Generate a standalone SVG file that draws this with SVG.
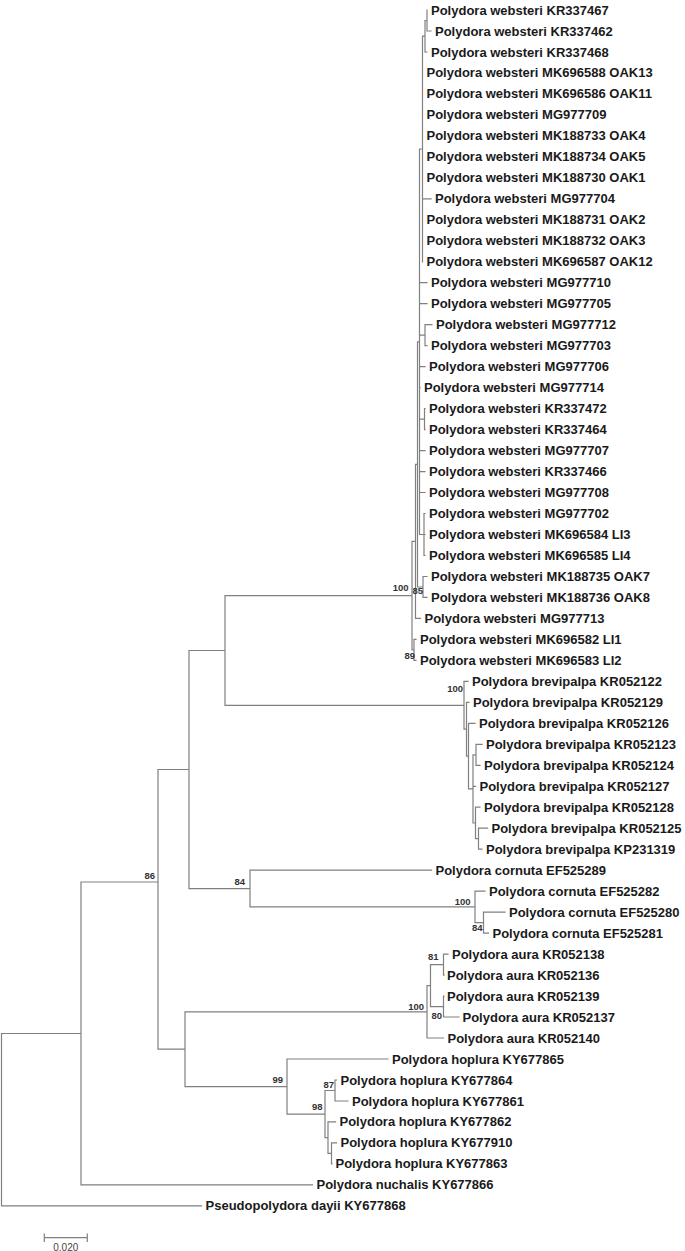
<svg xmlns="http://www.w3.org/2000/svg" width="685" height="1251" viewBox="0 0 685 1251">
<style>
.br{fill:none;stroke:#808080;stroke-width:1.2;stroke-linecap:square}
.lf{font-family:"Liberation Sans",Arial,sans-serif;font-weight:bold;font-size:13px;fill:#1a1a1a}
.bs{font-family:"Liberation Sans",Arial,sans-serif;font-weight:bold;font-size:9.5px;fill:#333;text-anchor:end}
.sc{font-family:"Liberation Sans",Arial,sans-serif;font-size:10px;fill:#444;text-anchor:middle}
</style>
<rect width="685" height="1251" fill="#fff"/>
<g id="connectors">
<path class="br" d="M1.5,1033.5V1205.9M1.5,1033.5H81M1.5,1205.9H201.5
M81,882V1184.9M81,882H158M81,1184.9H312.5
M158,769.5V1049.2M158,769.5H189M158,1049.2H185
M189,650.5V888.6M189,650.5H225M189,888.6H250
M225,595.7V705.3M225,595.7H412M225,705.3H464
M250,870.2V906.9M250,870.2H431.5M250,906.9H475
M475,891.2V922.6M475,891.2H485M475,922.6H483.5
M483.5,912.1V933.1M483.5,912.1H505M483.5,933.1H488.5
M185,1011.8V1086.6M185,1011.8H427M185,1086.6H287
M427,985.6V1038M427,985.6H430.5M427,1038H443.5
M430.5,964.6V1006.6M430.5,964.6H443.5M430.5,1006.6H443.5
M443.5,954.1V975.1M443.5,954.1H448M443.5,975.1H444
M443.5,996.1V1017M443.5,996.1H444M443.5,1017H459
M287,1059V1114.1M287,1059H388M287,1114.1H325
M325,1090.5V1137.7M325,1090.5H335M325,1137.7H328
M335,1080V1101M335,1080H336.5M335,1101H348
M328,1121.9V1153.4M328,1121.9H335.5M328,1153.4H331.5
M331.5,1142.9V1163.9M331.5,1142.9H336.5M331.5,1163.9H332
M464,681.4V729.2M464,681.4H468M464,729.2H466.5
M466.5,702.3V756.1M466.5,702.3H469M466.5,756.1H468.5
M468.5,723.3V788.9M468.5,723.3H475M468.5,788.9H473
M473,754.8V823M473,754.8H476M473,786.3H475.5M473,823H475.5
M476,744.3V765.3M476,744.3H482M476,765.3H480
M475.5,807.2V838.7M475.5,807.2H480M475.5,838.7H478.5
M478.5,828.2V849.2M478.5,828.2H487.5M478.5,849.2H482
M412,541.4V649.9M412,541.4H415.5M412,649.9H414
M414,639.4V660.4M414,639.4H416M414,660.4H416
M415.5,464.4V618.4M415.5,464.4H417.5M415.5,618.4H420.5
M417.5,341.8V587M417.5,341.8H419.5M417.5,587H423
M423,576.5V597.4M423,576.5H427M423,597.4H427
M419.5,149V534.5M419.5,149H422.5M419.5,282.7H427M419.5,303.7H427M419.5,335.2H425M419.5,366.7H425M419.5,387.6H420M419.5,419.1H424.5M419.5,450.6H425M419.5,471.6H425M419.5,492.5H425M419.5,534.5H424
M425,324.7V345.7M425,324.7H432M425,345.7H427
M424.5,408.6V429.6M424.5,408.6H425M424.5,429.6H425
M424,513.5V555.5M424,513.5H425M424,534.5H425M424,555.5H425
M422.5,36.2V261.8M422.5,36.2H425M422.5,198.8H431
M425,20.5V52M425,20.5H427M425,52H427
M427,10V31M427,31H431"/>
</g>
<g id="leaves">
<g id="leaf-KR337467"><text class="lf" x="431" y="14.5">Polydora websteri KR337467</text></g>
<g id="leaf-KR337462"><text class="lf" x="435" y="35.5">Polydora websteri KR337462</text></g>
<g id="leaf-KR337468"><text class="lf" x="431" y="56.5">Polydora websteri KR337468</text></g>
<g id="leaf-MK696588"><text class="lf" x="426.5" y="77.4">Polydora websteri MK696588 OAK13</text></g>
<g id="leaf-MK696586"><text class="lf" x="426.5" y="98.4">Polydora websteri MK696586 OAK11</text></g>
<g id="leaf-MG977709"><text class="lf" x="426.5" y="119.4">Polydora websteri MG977709</text></g>
<g id="leaf-MK188733"><text class="lf" x="426.5" y="140.4">Polydora websteri MK188733 OAK4</text></g>
<g id="leaf-MK188734"><text class="lf" x="426.5" y="161.4">Polydora websteri MK188734 OAK5</text></g>
<g id="leaf-MK188730"><text class="lf" x="426.5" y="182.3">Polydora websteri MK188730 OAK1</text></g>
<g id="leaf-MG977704"><text class="lf" x="435" y="203.3">Polydora websteri MG977704</text></g>
<g id="leaf-MK188731"><text class="lf" x="426.5" y="224.3">Polydora websteri MK188731 OAK2</text></g>
<g id="leaf-MK188732"><text class="lf" x="426.5" y="245.3">Polydora websteri MK188732 OAK3</text></g>
<g id="leaf-MK696587"><text class="lf" x="426.5" y="266.3">Polydora websteri MK696587 OAK12</text></g>
<g id="leaf-MG977710"><text class="lf" x="431" y="287.2">Polydora websteri MG977710</text></g>
<g id="leaf-MG977705"><text class="lf" x="431" y="308.2">Polydora websteri MG977705</text></g>
<g id="leaf-MG977712"><text class="lf" x="436" y="329.2">Polydora websteri MG977712</text></g>
<g id="leaf-MG977703"><text class="lf" x="431" y="350.2">Polydora websteri MG977703</text></g>
<g id="leaf-MG977706"><text class="lf" x="429" y="371.2">Polydora websteri MG977706</text></g>
<g id="leaf-MG977714"><text class="lf" x="424" y="392.1">Polydora websteri MG977714</text></g>
<g id="leaf-KR337472"><text class="lf" x="429" y="413.1">Polydora websteri KR337472</text></g>
<g id="leaf-KR337464"><text class="lf" x="429" y="434.1">Polydora websteri KR337464</text></g>
<g id="leaf-MG977707"><text class="lf" x="429" y="455.1">Polydora websteri MG977707</text></g>
<g id="leaf-KR337466"><text class="lf" x="429" y="476.1">Polydora websteri KR337466</text></g>
<g id="leaf-MG977708"><text class="lf" x="429" y="497">Polydora websteri MG977708</text></g>
<g id="leaf-MG977702"><text class="lf" x="429" y="518">Polydora websteri MG977702</text></g>
<g id="leaf-MK696584"><text class="lf" x="429" y="539">Polydora websteri MK696584 LI3</text></g>
<g id="leaf-MK696585"><text class="lf" x="429" y="560">Polydora websteri MK696585 LI4</text></g>
<g id="leaf-MK188735"><text class="lf" x="431" y="581">Polydora websteri MK188735 OAK7</text></g>
<g id="leaf-MK188736"><text class="lf" x="431" y="601.9">Polydora websteri MK188736 OAK8</text></g>
<g id="leaf-MG977713"><text class="lf" x="424.5" y="622.9">Polydora websteri MG977713</text></g>
<g id="leaf-MK696582"><text class="lf" x="420" y="643.9">Polydora websteri MK696582 LI1</text></g>
<g id="leaf-MK696583"><text class="lf" x="420" y="664.9">Polydora websteri MK696583 LI2</text></g>
<g id="leaf-KR052122"><text class="lf" x="472" y="685.9">Polydora brevipalpa KR052122</text></g>
<g id="leaf-KR052129"><text class="lf" x="473" y="706.8">Polydora brevipalpa KR052129</text></g>
<g id="leaf-KR052126"><text class="lf" x="479" y="727.8">Polydora brevipalpa KR052126</text></g>
<g id="leaf-KR052123"><text class="lf" x="486" y="748.8">Polydora brevipalpa KR052123</text></g>
<g id="leaf-KR052124"><text class="lf" x="484" y="769.8">Polydora brevipalpa KR052124</text></g>
<g id="leaf-KR052127"><text class="lf" x="479.5" y="790.8">Polydora brevipalpa KR052127</text></g>
<g id="leaf-KR052128"><text class="lf" x="484" y="811.7">Polydora brevipalpa KR052128</text></g>
<g id="leaf-KR052125"><text class="lf" x="491.5" y="832.7">Polydora brevipalpa KR052125</text></g>
<g id="leaf-KP231319"><text class="lf" x="486" y="853.7">Polydora brevipalpa KP231319</text></g>
<g id="leaf-EF525289"><text class="lf" x="435.5" y="874.7">Polydora cornuta EF525289</text></g>
<g id="leaf-EF525282"><text class="lf" x="489" y="895.7">Polydora cornuta EF525282</text></g>
<g id="leaf-EF525280"><text class="lf" x="509" y="916.6">Polydora cornuta EF525280</text></g>
<g id="leaf-EF525281"><text class="lf" x="492.5" y="937.6">Polydora cornuta EF525281</text></g>
<g id="leaf-KR052138"><text class="lf" x="452" y="958.6">Polydora aura KR052138</text></g>
<g id="leaf-KR052136"><text class="lf" x="447" y="979.6">Polydora aura KR052136</text></g>
<g id="leaf-KR052139"><text class="lf" x="447" y="1000.6">Polydora aura KR052139</text></g>
<g id="leaf-KR052137"><text class="lf" x="462.5" y="1021.5">Polydora aura KR052137</text></g>
<g id="leaf-KR052140"><text class="lf" x="447.5" y="1042.5">Polydora aura KR052140</text></g>
<g id="leaf-KY677865"><text class="lf" x="392" y="1063.5">Polydora hoplura KY677865</text></g>
<g id="leaf-KY677864"><text class="lf" x="340.5" y="1084.5">Polydora hoplura KY677864</text></g>
<g id="leaf-KY677861"><text class="lf" x="352" y="1105.5">Polydora hoplura KY677861</text></g>
<g id="leaf-KY677862"><text class="lf" x="339.5" y="1126.4">Polydora hoplura KY677862</text></g>
<g id="leaf-KY677910"><text class="lf" x="340.5" y="1147.4">Polydora hoplura KY677910</text></g>
<g id="leaf-KY677863"><text class="lf" x="335.5" y="1168.4">Polydora hoplura KY677863</text></g>
<g id="leaf-KY677866"><text class="lf" x="316.5" y="1189.4">Polydora nuchalis KY677866</text></g>
<g id="leaf-KY677868"><text class="lf" x="205.5" y="1210.4">Pseudopolydora dayii KY677868</text></g>
</g>
<g id="support">
<text class="bs" x="408.5" y="590.5">100</text>
<text class="bs" x="423" y="594">85</text>
<text class="bs" x="415" y="658.5">89</text>
<text class="bs" x="463" y="691.5">100</text>
<text class="bs" x="245" y="884.5">84</text>
<text class="bs" x="470.5" y="904.5">100</text>
<text class="bs" x="482.5" y="930.5">84</text>
<text class="bs" x="438.5" y="959.5">81</text>
<text class="bs" x="424" y="1010">100</text>
<text class="bs" x="442" y="1018.5">80</text>
<text class="bs" x="283" y="1082.5">99</text>
<text class="bs" x="334" y="1087.5">87</text>
<text class="bs" x="322.5" y="1109.5">98</text>
<text class="bs" x="155" y="878.5">86</text>
</g>
<g id="scale-bar">
<path class="br" d="M44.3,1237.7H87.3M44.3,1234V1241.4M87.3,1234V1241.4"/>
<text class="sc" x="65.8" y="1250.5">0.020</text>
</g>
</svg>
